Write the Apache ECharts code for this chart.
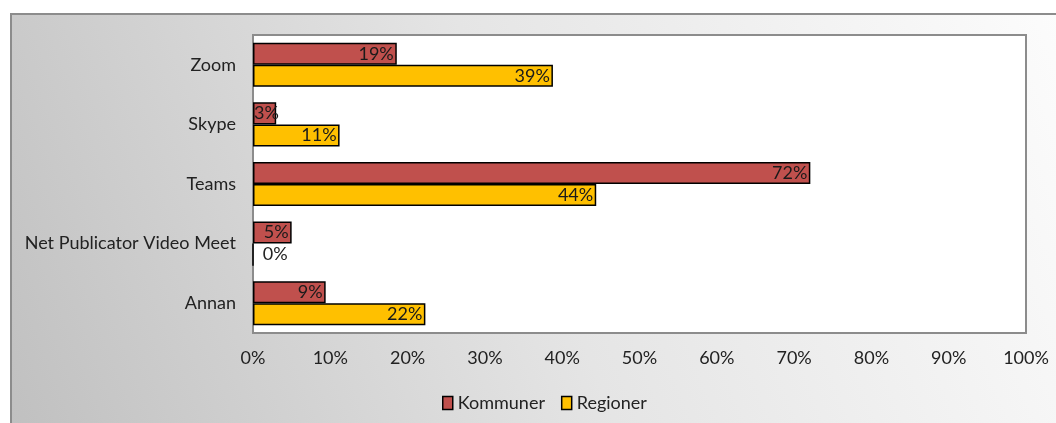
<!DOCTYPE html>
<html>
<head>
<meta charset="utf-8">
<script src="https://cdn.jsdelivr.net/npm/echarts@6/dist/echarts.min.js"></script>
<style>
  html, body { margin: 0; padding: 0; background: #fff; }
  #chart { width: 1056px; height: 423px; }
</style>
</head>
<body>
<div id="chart"></div>
<script>
// data (bar lengths; labels show the rounded value)
const categories = ['Zoom', 'Skype', 'Teams', 'Net Publicator Video Meet', 'Annan']
const kommuner = [18.6, 3.0, 72.1, 5.0, 9.4]
const regioner = [38.8, 11.2, 44.4, 0, 22.3]
const seriesNames = ['Kommuner', 'Regioner']
const seriesColors = ['#C0504D', '#FFC000']

const font = 'Lato, "Open Sans", sans-serif'

// zero values get their label outside the bar, tiny ones start at the axis
const toItems = vals => vals.map(v => {
    if (v === 0) return { value: v, label: { position: 'right', offset: [6, 0], color: '#222' } }
    if (v < 4) return { value: v, label: { position: 'insideLeft', distance: 1 } }
    return v
})

const ec = echarts.init(document.getElementById('chart'))

const barSeries = (name, vals, color) => ({
    name,
    type: 'bar',
    data: toItems(vals),
    barGap: '0%',
    barCategoryGap: '26%',
    itemStyle: { color, borderColor: '#000', borderWidth: 1.5 },
    label: {
        show: true,
        position: 'insideRight',
        distance: 3,
        formatter: p => Math.round(p.value) + '%',
        color: '#1a1a1a',
        fontFamily: font,
        fontSize: 18
    }
})

ec.setOption({
    animation: false,
    graphic: [{
        type: 'rect',
        z: -10,
        silent: true,
        shape: { x: 11, y: 14, width: 1050, height: 412 },
        style: {
            fill: new echarts.graphic.LinearGradient(1, 0, 0, 1, [
                { offset: 0, color: '#fcfcfc' },
                { offset: 0.5, color: '#e5e5e5' },
                { offset: 1, color: '#c0c0c0' }
            ]),
            stroke: '#8c8c8c',
            lineWidth: 2
        }
    }],
    grid: {
        left: 253, right: 30, top: 35, bottom: 90,
        show: true,
        backgroundColor: '#ffffff',
        borderColor: '#8c8c8c',
        borderWidth: 2
    },
    legend: {
        left: 437,
        top: 389,
        itemWidth: 10,
        itemHeight: 13,
        itemGap: 16,
        icon: 'rect',
        textStyle: { color: '#222', fontFamily: font, fontSize: 18 },
        data: seriesNames.map((n, i) => ({
            name: n,
            itemStyle: { color: seriesColors[i], borderColor: '#000', borderWidth: 1.5 }
        }))
    },
    xAxis: {
        type: 'value',
        min: 0, max: 100, interval: 10,
        axisLine: { show: false },
        axisTick: { show: false },
        splitLine: { show: false },
        axisLabel: {
            formatter: '{value}%',
            margin: 16,
            color: '#222',
            fontFamily: font,
            fontSize: 18
        }
    },
    yAxis: {
        type: 'category',
        inverse: true,
        data: categories,
        axisLine: { show: false },
        axisTick: { show: false },
        axisLabel: {
            margin: 17,
            color: '#222',
            fontFamily: font,
            fontSize: 18
        }
    },
    series: [
        barSeries(seriesNames[0], kommuner, seriesColors[0]),
        barSeries(seriesNames[1], regioner, seriesColors[1])
    ]
})
</script>
</body>
</html>
